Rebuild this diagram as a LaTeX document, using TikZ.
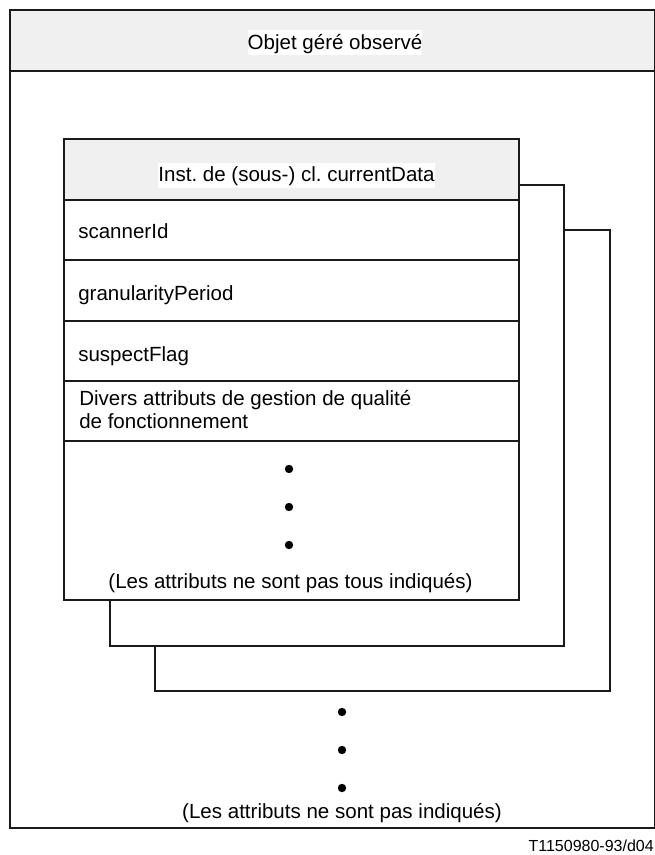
\documentclass[tikz,border=0pt]{standalone}
\usepackage{fontspec}
\setmainfont{Liberation Sans}
\frenchspacing
\definecolor{hdr}{HTML}{F0F0F0}
\definecolor{ink}{HTML}{1A1A1A}
\begin{document}
\begin{tikzpicture}[x=0.75pt,y=-0.75pt,
  frame/.style={draw=ink, line width=0.8pt},
  sep/.style={draw=ink, line width=1.1pt},
  lbl/.style={font=\fontsize{15.4}{18.5}\selectfont, inner sep=0pt, text=black},
  title/.style={lbl, fill=white, text height=14.6pt, text depth=4.2pt},
  dotmark/.style={circle, fill=black, draw=none, inner sep=0pt, minimum size=6.3pt},
  caption/.style={font=\fontsize{12}{14}\selectfont, inner sep=0pt}]
\useasboundingbox (0,0) rectangle (655,855);
% outer managed object
\fill[white] (10,10) rectangle (655,828);
\fill[hdr] (10,10) rectangle (655,71);
\draw[frame] (10,10) rectangle (655,828);
\draw[sep] (10,71) -- (655,71);
\node[title, anchor=base] (objet) at (335,49.5) {Objet géré observé};
% stacked instances (back to front)
\draw[frame, fill=white] (155,230) rectangle (610,691);
\draw[frame, fill=white] (110,185) rectangle (564,646);
\fill[white] (64,139) rectangle (519,600);
\fill[hdr] (64,139) rectangle (519,200);
\draw[frame] (64,139) rectangle (519,600);
\draw[sep] (64,200) -- (519,200);
\draw[sep] (64,260) -- (519,260);
\draw[sep] (64,321) -- (519,321);
\draw[sep] (64,381) -- (519,381);
\draw[sep] (64,441) -- (519,441);
\node[title, anchor=base] (inst) at (296.5,182) {Inst. de (sous-) cl. currentData};
\node[lbl, anchor=base west] (scan) at (78,239) {scannerId};
\node[lbl, anchor=base west] (gran) at (78,300) {granularityPeriod};
\node[lbl, anchor=base west] (susp) at (78,361) {suspectFlag};
\node[lbl, anchor=base west] (div1) at (79,405) {Divers attributs de gestion de qualité};
\node[lbl, anchor=base west] (div2) at (79,428) {de fonctionnement};
\node[dotmark] (fd1) at (289,469) {};
\node[dotmark] (fd2) at (289,507) {};
\node[dotmark] (fd3) at (289,545) {};
\node[lbl, anchor=base] (tous) at (290.5,588) {(Les attributs ne sont pas tous indiqués)};
% outer dots and note
\node[dotmark] (od1) at (342,712) {};
\node[dotmark] (od2) at (342,750) {};
\node[dotmark] (od3) at (342,788) {};
\node[lbl, anchor=base] (pas) at (342,818) {(Les attributs ne sont pas indiqués)};
\node[caption, anchor=base east] (ref) at (654,851) {T1150980-93/d04};
\end{tikzpicture}
\end{document}
